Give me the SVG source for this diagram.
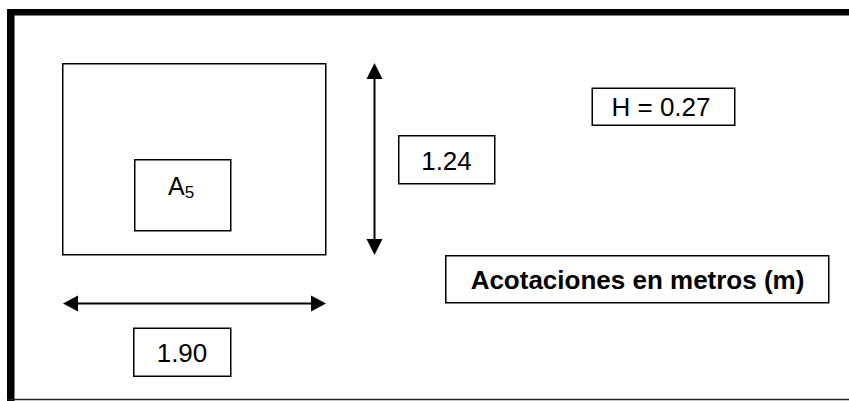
<svg xmlns="http://www.w3.org/2000/svg" width="849" height="401" viewBox="0 0 849 401">
<style>
.box{fill:#fff;stroke:#000;stroke-width:1.5}
.t{font-family:"Liberation Sans",Arial,sans-serif;font-size:26px;fill:#000;text-anchor:middle}
.b{font-weight:bold}
.dim{stroke:#000;stroke-width:2;fill:none}
.head{fill:#000}
</style>
<rect width="849" height="401" fill="#fff"/>
<g id="frame">
<rect x="7" y="9" width="842" height="6.5" fill="#000"/>
<rect x="7" y="9" width="7.5" height="392" fill="#000"/>
<line x1="7" y1="399.5" x2="849" y2="399.5" stroke="#222" stroke-width="1.5"/>
</g>
<g id="plan">
<rect class="box" x="62.75" y="63.75" width="263" height="191"/>
</g>
<g id="a5">
<rect class="box" x="134.75" y="159.75" width="96" height="71"/>
<text x="168" y="195" style="font-family:'Liberation Sans',Arial,sans-serif;font-size:25px;fill:#000">A<tspan font-size="17" dy="3">5</tspan></text>
</g>
<g id="connectors">
<line class="dim" x1="374.5" y1="76" x2="374.5" y2="242"/>
<polygon class="head" points="374.5,63 366.5,79 382.5,79"/>
<polygon class="head" points="374.5,255 366.5,239 382.5,239"/>
<line class="dim" x1="76" y1="303.5" x2="313" y2="303.5"/>
<polygon class="head" points="63,303.5 78,295.5 78,311.5"/>
<polygon class="head" points="326,303.5 311,295.5 311,311.5"/>
</g>
<g id="dim-h">
<rect class="box" x="398.75" y="135.75" width="96" height="48"/>
<text class="t" x="446.5" y="170">1.24</text>
</g>
<g id="dim-w">
<rect class="box" x="133.75" y="328.25" width="97" height="48"/>
<text class="t" x="182" y="362">1.90</text>
</g>
<g id="height">
<rect class="box" x="592.25" y="88.25" width="142.5" height="37"/>
<text class="t" x="661" y="116">H = 0.27</text>
</g>
<g id="note">
<rect class="box" x="445.75" y="255.75" width="383" height="47"/>
<text class="t b" x="637.5" y="289">Acotaciones en metros (m)</text>
</g>
</svg>
